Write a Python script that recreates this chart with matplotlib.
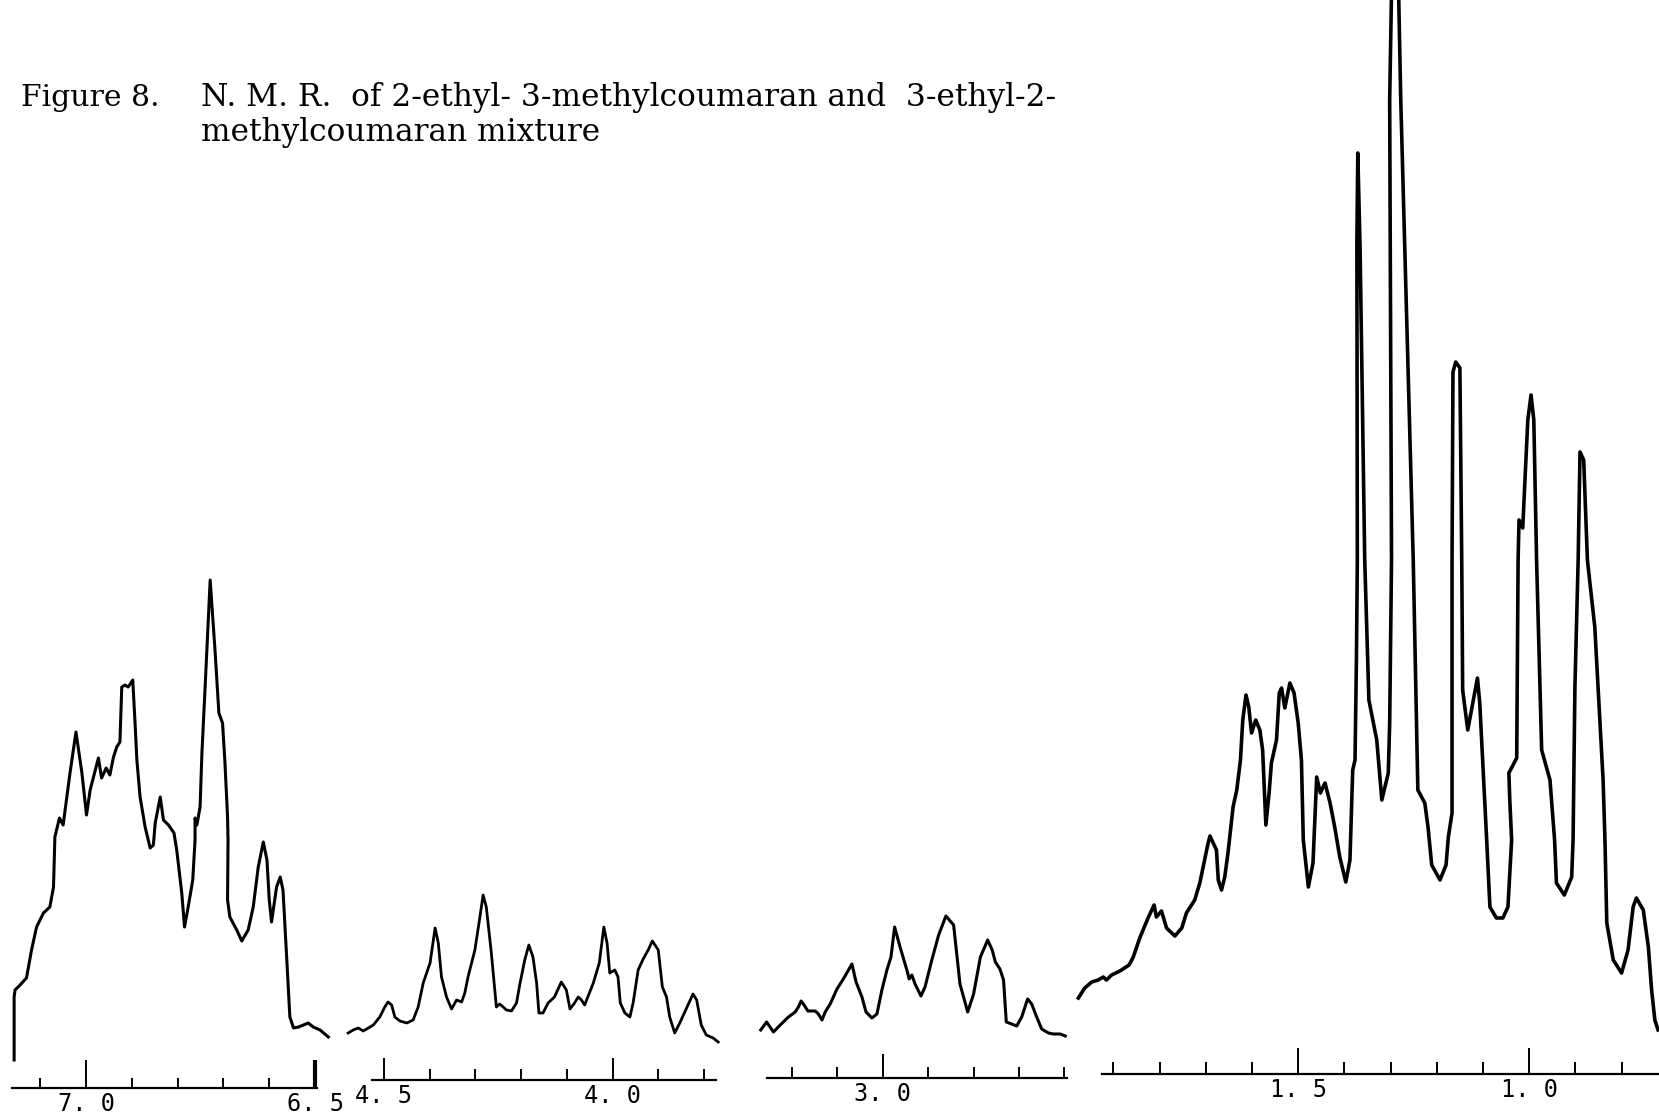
import matplotlib.pyplot as plt

# ---------------------- DATA (ppm, intensity) ----------------------

# aromatic region, 7.16 - 6.47 ppm
trace_aromatic = [
    (7.157, 2.8), (7.157, 9.1), (7.155, 9.8), (7.144, 10.3), (7.130, 11.0), (7.119, 13.8),
    (7.108, 16.1), (7.093, 17.5), (7.079, 18.1), (7.071, 20.1), (7.068, 25.1), (7.058, 27.0),
    (7.050, 26.3), (7.035, 31.5), (7.022, 35.6), (7.009, 31.5), (6.999, 27.3), (6.991, 29.8),
    (6.973, 33.0), (6.966, 31.0), (6.956, 32.0), (6.948, 31.3), (6.940, 33.1), (6.933, 34.1),
    (6.926, 34.6), (6.922, 40.1), (6.915, 40.3), (6.908, 40.1), (6.898, 40.8), (6.893, 36.5),
    (6.889, 32.8), (6.882, 29.1), (6.871, 26.1), (6.860, 24.0), (6.853, 24.3), (6.849, 26.5),
    (6.838, 29.1), (6.831, 26.8), (6.820, 26.3), (6.808, 25.5), (6.802, 23.8), (6.791, 19.5),
    (6.785, 16.1), (6.777, 18.1), (6.767, 20.8), (6.762, 24.8), (6.762, 27.0), (6.758, 26.3),
    (6.751, 28.1), (6.747, 33.5), (6.740, 40.1), (6.729, 50.8), (6.718, 43.5), (6.710, 37.5),
    (6.702, 36.5), (6.697, 32.8), (6.691, 27.1), (6.690, 24.8), (6.691, 18.8), (6.686, 17.1),
    (6.671, 15.8), (6.660, 14.7), (6.646, 15.8), (6.635, 18.1), (6.624, 22.1), (6.613, 24.6),
    (6.605, 22.8), (6.600, 18.8), (6.595, 16.6), (6.584, 20.1), (6.576, 21.1), (6.570, 19.8),
    (6.562, 13.1), (6.555, 7.1), (6.547, 6.0), (6.536, 6.1), (6.515, 6.5), (6.504, 6.1),
    (6.489, 5.8), (6.471, 5.1),
]

# 4.58 - 3.77 ppm
trace_ch_o = [
    (4.578, 4.7), (4.567, 5.0), (4.556, 5.2), (4.545, 4.9), (4.534, 5.2), (4.523, 5.5),
    (4.509, 6.3), (4.498, 7.3), (4.491, 7.8), (4.483, 7.5), (4.476, 6.3), (4.465, 5.9),
    (4.450, 5.7), (4.436, 6.0), (4.425, 7.3), (4.414, 9.7), (4.399, 11.7), (4.388, 15.2),
    (4.381, 13.7), (4.374, 10.3), (4.363, 8.3), (4.352, 7.1), (4.341, 8.0), (4.330, 7.8),
    (4.323, 8.7), (4.316, 10.3), (4.301, 13.0), (4.290, 16.3), (4.283, 18.5), (4.276, 17.3),
    (4.265, 12.7), (4.254, 7.3), (4.247, 7.6), (4.239, 7.3), (4.232, 7.0), (4.221, 6.9),
    (4.210, 7.7), (4.203, 9.5), (4.192, 12.0), (4.183, 13.5), (4.174, 12.3), (4.166, 9.7),
    (4.161, 6.7), (4.152, 6.7), (4.141, 7.7), (4.127, 8.3), (4.112, 9.8), (4.101, 9.0),
    (4.093, 7.1), (4.083, 7.7), (4.075, 8.3), (4.068, 8.0), (4.061, 7.5), (4.042, 9.7),
    (4.029, 11.7), (4.019, 15.3), (4.012, 13.7), (4.006, 10.7), (3.995, 11.0), (3.988, 10.3),
    (3.983, 7.7), (3.973, 6.7), (3.962, 6.3), (3.955, 7.7), (3.944, 11.0), (3.933, 12.1),
    (3.922, 13.0), (3.913, 13.9), (3.900, 13.0), (3.891, 9.3), (3.882, 8.3), (3.875, 6.3),
    (3.864, 4.7), (3.853, 5.7), (3.835, 7.5), (3.824, 8.6), (3.816, 8.0), (3.806, 5.5),
    (3.795, 4.5), (3.780, 4.2), (3.769, 3.8),
]

# 3.27 - 2.60 ppm
trace_ch = [
    (3.269, 4.8), (3.256, 5.6), (3.241, 4.6), (3.226, 5.3), (3.208, 6.1), (3.193, 6.6),
    (3.186, 7.1), (3.180, 7.7), (3.175, 7.4), (3.165, 6.7), (3.149, 6.7), (3.142, 6.4),
    (3.134, 5.8), (3.127, 6.6), (3.116, 7.4), (3.101, 8.9), (3.087, 9.9), (3.068, 11.4),
    (3.059, 9.6), (3.046, 8.1), (3.037, 6.6), (3.024, 6.0), (3.013, 6.4), (3.002, 8.8),
    (2.991, 10.8), (2.982, 12.1), (2.974, 15.1), (2.962, 13.1), (2.947, 10.8), (2.942, 9.9),
    (2.936, 10.3), (2.929, 9.4), (2.916, 8.2), (2.907, 9.1), (2.892, 11.8), (2.877, 14.3),
    (2.861, 16.2), (2.844, 15.3), (2.830, 9.4), (2.813, 6.6), (2.800, 8.4), (2.785, 12.1),
    (2.769, 13.8), (2.759, 12.8), (2.752, 11.6), (2.742, 10.9), (2.734, 9.8), (2.728, 5.6),
    (2.716, 5.4), (2.705, 5.2), (2.694, 6.1), (2.681, 7.9), (2.672, 7.4), (2.661, 6.1),
    (2.650, 4.9), (2.635, 4.5), (2.624, 4.4), (2.609, 4.4), (2.598, 4.2),
]

# aliphatic region, 1.98 - 0.72 ppm (peak near 1.29 runs off the top)
trace_alkyl = [
    (1.976, 7.6), (1.962, 8.6), (1.947, 9.2), (1.933, 9.4), (1.922, 9.7), (1.915, 9.4),
    (1.904, 9.9), (1.886, 10.3), (1.866, 10.9), (1.857, 11.7), (1.843, 13.6), (1.825, 15.6),
    (1.812, 16.9), (1.807, 15.7), (1.796, 16.3), (1.785, 14.6), (1.767, 13.8), (1.752, 14.6),
    (1.742, 16.1), (1.724, 17.4), (1.713, 19.1), (1.695, 23.1), (1.691, 23.8), (1.677, 22.4),
    (1.673, 19.4), (1.666, 18.4), (1.659, 19.7), (1.652, 22.1), (1.641, 26.7), (1.633, 28.4),
    (1.625, 31.4), (1.620, 35.4), (1.613, 37.9), (1.607, 36.7), (1.601, 34.1), (1.592, 35.4),
    (1.583, 34.4), (1.577, 32.4), (1.570, 24.9), (1.563, 28.1), (1.558, 31.1), (1.547, 33.4),
    (1.541, 38.1), (1.536, 38.6), (1.529, 36.6), (1.518, 39.1), (1.509, 38.1), (1.500, 35.1),
    (1.493, 31.4), (1.489, 23.4), (1.478, 18.7), (1.468, 21.1), (1.460, 29.7), (1.452, 28.1),
    (1.442, 29.1), (1.431, 27.1), (1.421, 24.7), (1.410, 21.7), (1.397, 19.2), (1.388, 21.4),
    (1.384, 27.4), (1.382, 30.4), (1.377, 31.4), (1.374, 41.4), (1.372, 51.4), (1.373, 83.1),
    (1.371, 92.1), (1.366, 82.4), (1.356, 51.4), (1.347, 37.4), (1.330, 33.4), (1.319, 27.4),
    (1.305, 30.1), (1.302, 35.1), (1.298, 51.4), (1.302, 97.4), (1.291, 127.4), (1.278, 97.4),
    (1.251, 51.4), (1.241, 28.4), (1.226, 27.1), (1.219, 24.7), (1.211, 20.9), (1.193, 19.4),
    (1.180, 20.9), (1.175, 23.7), (1.167, 26.1), (1.167, 51.4), (1.165, 70.2), (1.159, 71.2),
    (1.150, 70.6), (1.146, 51.4), (1.144, 38.4), (1.133, 34.4), (1.112, 39.6), (1.107, 37.1),
    (1.092, 23.4), (1.085, 16.7), (1.071, 15.6), (1.057, 15.6), (1.046, 16.7), (1.038, 23.4),
    (1.042, 27.4), (1.044, 30.1), (1.027, 31.6), (1.024, 51.4), (1.022, 55.4), (1.014, 54.6),
    (1.003, 65.4), (0.996, 67.9), (0.990, 65.4), (0.984, 51.4), (0.973, 32.4), (0.955, 29.4),
    (0.945, 23.4), (0.941, 19.1), (0.924, 17.9), (0.908, 19.7), (0.905, 23.4), (0.901, 38.7),
    (0.894, 51.4), (0.890, 62.2), (0.882, 61.4), (0.874, 51.4), (0.858, 44.7), (0.840, 29.4),
    (0.836, 23.4), (0.832, 15.1), (0.818, 11.4), (0.800, 10.1), (0.786, 12.4), (0.775, 16.7),
    (0.768, 17.6), (0.753, 16.4), (0.742, 12.7), (0.735, 8.4), (0.728, 5.4), (0.721, 4.4),
]

aromatic_major = [7.0, 6.5]
aromatic_minor = [7.1, 6.9, 6.8, 6.7, 6.6]
aromatic_labels = ['7. 0', '6. 5']

ch_o_major = [4.5, 4.0]
ch_o_minor = [4.4, 4.3, 4.2, 4.1, 3.9, 3.8]
ch_o_labels = ['4. 5', '4. 0']

ch_major = [3.0]
ch_minor = [3.2, 3.1, 2.9, 2.8, 2.7, 2.6]
ch_labels = ['3. 0']

alkyl_major = [1.5, 1.0]
alkyl_minor = [1.9, 1.8, 1.7, 1.6, 1.4, 1.3, 1.2, 1.1, 0.9, 0.8]
alkyl_labels = ['1. 5', '1. 0']

# ---------------------- FIGURE ----------------------

W, H = 1659, 1118
fig = plt.figure(figsize=(W / 100, H / 100), dpi=100)
fig.patch.set_facecolor('white')

MONO = ['DejaVu Sans Mono']


def make_panel(px_left, px_right, px_axis, xlim, axis_span, trace,
               major, labels, minor, lw=2.0, major_len=18, minor_len=7):
    ax = fig.add_axes([px_left / W, (H - px_axis) / H,
                       (px_right - px_left) / W, px_axis / H])
    ax.patch.set_alpha(0)
    ppm, inten = zip(*trace)
    ax.plot(ppm, inten, color='black', lw=lw, solid_joinstyle='round')
    ax.set_xlim(*xlim)
    ax.set_ylim(0, px_axis / 10)
    for s in ['left', 'right', 'top']:
        ax.spines[s].set_visible(False)
    ax.spines['bottom'].set_linewidth(1.6)
    ax.spines['bottom'].set_bounds(*axis_span)
    ax.set_yticks([])
    ax.set_xticks(major, labels)
    ax.set_xticks(minor, minor=True)
    ax.tick_params(axis='x', which='major', direction='in', length=major_len,
                   width=1.4, pad=3, labelsize=17)
    ax.tick_params(axis='x', which='minor', direction='in', length=minor_len, width=1.4)
    for t in ax.get_xticklabels():
        t.set_family(MONO)
    return ax


ax1 = make_panel(10, 332, 1088, (7.166, 6.463), (7.162, 6.496), trace_aromatic,
                 aromatic_major, aromatic_labels, aromatic_minor, lw=2.2, major_len=20)
# the 6.5 marker is drawn heavier
ax1.xaxis.get_major_ticks()[1].tick1line.set_markeredgewidth(3)

make_panel(345, 720, 1080, (4.585, 3.765), (4.527, 3.773), trace_ch_o,
           ch_o_major, ch_o_labels, ch_o_minor, lw=2.0, major_len=16, minor_len=8)

make_panel(758, 1068, 1078, (3.275, 2.592), (3.255, 2.595), trace_ch,
           ch_major, ch_labels, ch_minor, lw=2.2, major_len=17, minor_len=8)

make_panel(1076, 1659, 1074, (1.981, 0.719), (1.925, 0.719), trace_alkyl,
           alkyl_major, alkyl_labels, alkyl_minor, lw=2.6, major_len=19, minor_len=9)

# ---------------------- TITLE ----------------------

SERIF = ['DejaVu Serif']
fig.text(21 / W, 1 - 106 / H, 'Figure 8.', family=SERIF, fontsize=21.5, va='baseline')
fig.text(201 / W, 1 - 106 / H, 'N. M. R.  of 2-ethyl- 3-methylcoumaran and  3-ethyl-2-',
         family=SERIF, fontsize=22.5, va='baseline')
fig.text(201 / W, 1 - 141 / H, 'methylcoumaran mixture', family=SERIF, fontsize=22.5,
         va='baseline')

fig.savefig('out.png', dpi=100)
